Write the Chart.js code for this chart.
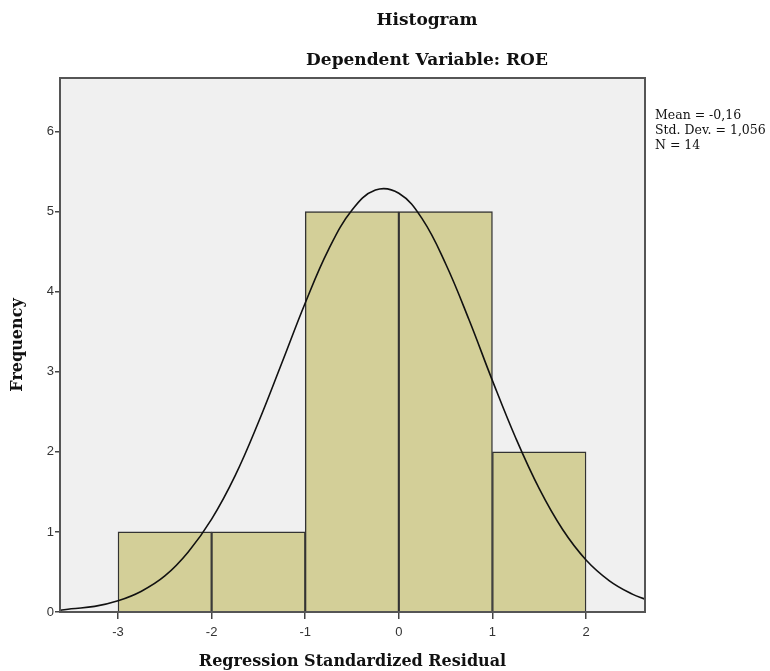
<!DOCTYPE html>
<html>
<head>
<meta charset="utf-8">
<title>Histogram - ROE</title>
<script src="https://cdn.jsdelivr.net/npm/chart.js@4/dist/chart.umd.min.js"></script>
<style>
  html,body{margin:0;padding:0;background:#fff}
  #wrap{position:relative;width:770px;height:671px}
</style>
</head>
<body>
<div id="wrap"><canvas id="c" width="770" height="671"></canvas></div>
<script>
// --- data
const binCenters = [-2.5, -1.5, -0.5, 0.5, 1.5];
const binCounts  = [1, 1, 5, 5, 2];
const curveX = [-3.62, -3.5, -3.25, -3, -2.75, -2.5, -2.25, -2, -1.75, -1.5, -1.25, -1, -0.75, -0.5, -0.25, 0, 0.25, 0.5, 0.75, 1, 1.25, 1.5, 1.75, 2, 2.25, 2.5, 2.63];
const curveY = [0.02, 0.04, 0.07, 0.14, 0.26, 0.45, 0.75, 1.16, 1.70, 2.37, 3.11, 3.86, 4.53, 5.02, 5.27, 5.23, 4.91, 4.35, 3.65, 2.89, 2.17, 1.54, 1.03, 0.65, 0.39, 0.22, 0.16];
const xTicks = [-3, -2, -1, 0, 1, 2];
const yTicks = [0, 1, 2, 3, 4, 5, 6];
const statLines = ['Mean = -0,16', 'Std. Dev. = 1,056', 'N = 14'];
const titleText = 'Histogram';
const subTitle = 'Dependent Variable: ROE';

const SERIF = '"DejaVu Serif", "Liberation Serif", serif';
const SANS = '"Liberation Sans", Arial, sans-serif';

// grey plot background + frame + texts
const frame = {
  id:'frame',
  beforeDraw(ch){
    const a=ch.chartArea, g=ch.ctx;
    g.save(); g.fillStyle='#f0f0f0'; g.fillRect(a.left,a.top,a.right-a.left,a.bottom-a.top); g.restore();
  },
  afterDraw(ch){
    const a=ch.chartArea, g=ch.ctx;
    g.save();
    g.strokeStyle='#555'; g.lineWidth=2;
    g.strokeRect(a.left,a.top,a.right-a.left,a.bottom-a.top);
    g.fillStyle='#111'; g.textAlign='center'; g.textBaseline='middle';
    g.font='bold 17px '+SERIF;
    g.fillText(titleText,427,21);
    g.fillText(subTitle,427,61);
    g.textAlign='left'; g.font='12.5px '+SERIF;
    statLines.forEach((s,i)=>g.fillText(s,655,116+i*15));
    g.restore();
  }
};

new Chart(document.getElementById('c'), {
  type:'bar',
  data:{
    datasets:[
      {type:'line', data:curveX.map((x,i)=>({x, y:curveY[i]})), borderColor:'#111', borderWidth:1.6,
       pointRadius:0, tension:0.4, fill:false, order:0},
      {type:'bar', data:binCenters.map((x,i)=>({x, y:binCounts[i]})), backgroundColor:'#d3cf98',
       borderColor:'#333', borderWidth:1.4, barPercentage:1, categoryPercentage:1, order:1}
    ]
  },
  options:{
    responsive:false, animation:false,
    layout:{padding:{top:78, right:125, left:0, bottom:0}},
    plugins:{legend:{display:false}, tooltip:{enabled:false}},
    scales:{
      x:{
        type:'linear', min:-3.62, max:2.63, offset:false,
        afterBuildTicks:s=>{ s.ticks = xTicks.map(v=>({value:v})); },
        afterFit:s=>{ s.height=59; },
        grid:{display:true, offset:false, drawOnChartArea:false, drawTicks:true, tickLength:7, color:'#444', lineWidth:1.5},
        border:{display:true, color:'#555', width:2},
        ticks:{color:'#333', font:{family:SANS, size:13}, padding:6},
        title:{display:true, text:'Regression Standardized Residual', color:'#111',
               font:{family:SERIF, size:16, weight:'bold'}, padding:{top:0, bottom:0}}
      },
      y:{
        min:0, max:6.67,
        afterBuildTicks:s=>{ s.ticks = yTicks.map(v=>({value:v})); },
        afterFit:s=>{ s.width=60; },
        grid:{display:true, drawOnChartArea:false, drawTicks:true, tickLength:5, color:'#444', lineWidth:1.5},
        border:{display:true, color:'#555', width:2},
        ticks:{color:'#333', font:{family:SANS, size:13}, padding:1},
        title:{display:true, text:'Frequency', color:'#111',
               font:{family:SERIF, size:16, weight:'bold'}, padding:{top:8, bottom:0}}
      }
    }
  },
  plugins:[frame]
});
</script>
</body>
</html>
